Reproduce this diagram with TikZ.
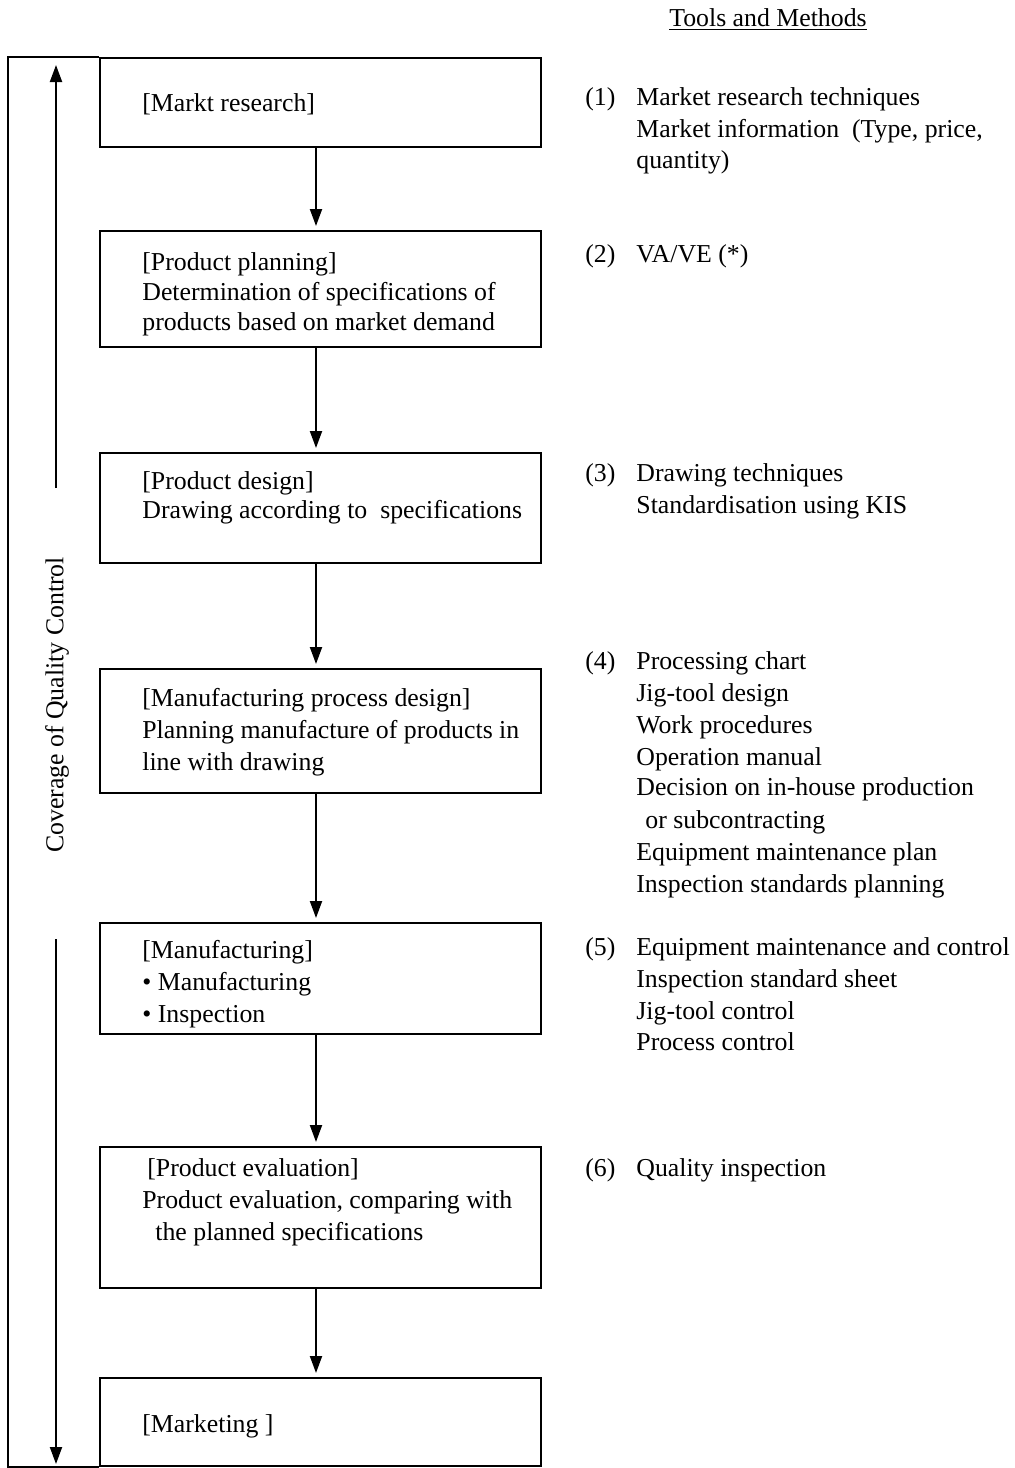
\documentclass[tikz,border=0pt]{standalone}
\usepackage{fontspec}
\setmainfont{Liberation Serif}
\usetikzlibrary{arrows.meta,fit}
\begin{document}
\begin{tikzpicture}[x=0.5pt,y=-0.5pt,
  every node/.style={font=\fontsize{12.9pt}{15.75pt}\selectfont},
  box/.style={draw,line width=1pt,inner sep=0pt},
  txt/.style={anchor=base west,inner sep=0pt},
  arr/.style={line width=1pt,-{Triangle[length=8.5pt,width=6pt]}},
  frame/.style={line width=1pt}]
\useasboundingbox (0,0) rectangle (1015,1468);
% boxes
\node[box,fit={(100,58) (541,147)}] (b1) {};
\node[box,fit={(100,231) (541,347)}] (b2) {};
\node[box,fit={(100,453) (541,563)}] (b3) {};
\node[box,fit={(100,669) (541,793)}] (b4) {};
\node[box,fit={(100,923) (541,1034)}] (b5) {};
\node[box,fit={(100,1147) (541,1288)}] (b6) {};
\node[box,fit={(100,1378) (541,1466)}] (b7) {};
% box texts
\node[txt] (t1a) at (142,111) {[Markt research]};
\node[txt] (t2a) at (142,270) {[Product planning]};
\node[txt] (t2b) at (142,300) {Determination of specifications of};
\node[txt] (t2c) at (142,330) {products based on market demand};
\node[txt] (t3a) at (142,489) {[Product design]};
\node[txt] (t3b) at (142,518) {Drawing according to\ \ specifications};
\node[txt] (t4a) at (142,706) {[Manufacturing process design]};
\node[txt] (t4b) at (142,738) {Planning manufacture of products in};
\node[txt] (t4c) at (142,770) {line with drawing};
\node[txt] (t5a) at (142,958) {[Manufacturing]};
\node[txt] (t5b) at (142,990) {\textbullet\ Manufacturing};
\node[txt] (t5c) at (142,1022) {\textbullet\ Inspection};
\node[txt] (t6a) at (147,1176) {[Product evaluation]};
\node[txt] (t6b) at (142,1208) {Product evaluation, comparing with};
\node[txt] (t6c) at (155,1240) {the planned specifications};
\node[txt] (t7a) at (142,1432) {[Marketing ]};
% arrows between boxes
\coordinate (ax) at (316,0);
\draw[arr,shorten >=2pt] (ax |- b1.south) -- (ax |- b2.north);
\draw[arr,shorten >=2pt] (ax |- b2.south) -- (ax |- b3.north);
\draw[arr,shorten >=2pt] (ax |- b3.south) -- (ax |- b4.north);
\draw[arr,shorten >=2pt] (ax |- b4.south) -- (ax |- b5.north);
\draw[arr,shorten >=2pt] (ax |- b5.south) -- (ax |- b6.north);
\draw[arr,shorten >=2pt] (ax |- b6.south) -- (ax |- b7.north);
% left frame
\coordinate (fl) at (8,0);
\draw[frame] (b1.north west) -- (fl |- b1.north west) -- (fl |- b7.south west) -- (b7.south west);
% coverage arrows and label
\coordinate (u0) at (56,488);
\coordinate (u1) at (56,65);
\coordinate (d0) at (56,939);
\coordinate (d1) at (56,1464);
\draw[arr] (u0) -- (u1);
\draw[arr] (d0) -- (d1);
\node[rotate=90,inner sep=0pt] (cov) at (57,705) {Coverage of Quality Control};
% tools and methods
\node[anchor=base,inner sep=0pt] (title) at (768,26) {\underline{Tools and Methods}};
\node[txt] (n1) at (585,105) {(1)};
\node[txt] (r1a) at (636,105) {Market research techniques};
\node[txt] (r1b) at (636,137) {Market information\ \ (Type, price,};
\node[txt] (r1c) at (636,168) {quantity)};
\node[txt] (n2) at (585,262) {(2)};
\node[txt] (r2a) at (636,262) {VA/VE (*)};
\node[txt] (n3) at (585,481) {(3)};
\node[txt] (r3a) at (636,481) {Drawing techniques};
\node[txt] (r3b) at (636,513) {Standardisation using KIS};
\node[txt] (n4) at (585,669) {(4)};
\node[txt] (r4a) at (636,669) {Processing chart};
\node[txt] (r4b) at (636,701) {Jig-tool design};
\node[txt] (r4c) at (636,733) {Work procedures};
\node[txt] (r4d) at (636,765) {Operation manual};
\node[txt] (r4e) at (636,795) {Decision on in-house production};
\node[txt] (r4f) at (645,828) {or subcontracting};
\node[txt] (r4g) at (636,860) {Equipment maintenance plan};
\node[txt] (r4h) at (636,892) {Inspection standards planning};
\node[txt] (n5) at (585,955) {(5)};
\node[txt] (r5a) at (636,955) {Equipment maintenance and control};
\node[txt] (r5b) at (636,987) {Inspection standard sheet};
\node[txt] (r5c) at (636,1019) {Jig-tool control};
\node[txt] (r5d) at (636,1050) {Process control};
\node[txt] (n6) at (585,1176) {(6)};
\node[txt] (r6a) at (636,1176) {Quality inspection};
\end{tikzpicture}
\end{document}
